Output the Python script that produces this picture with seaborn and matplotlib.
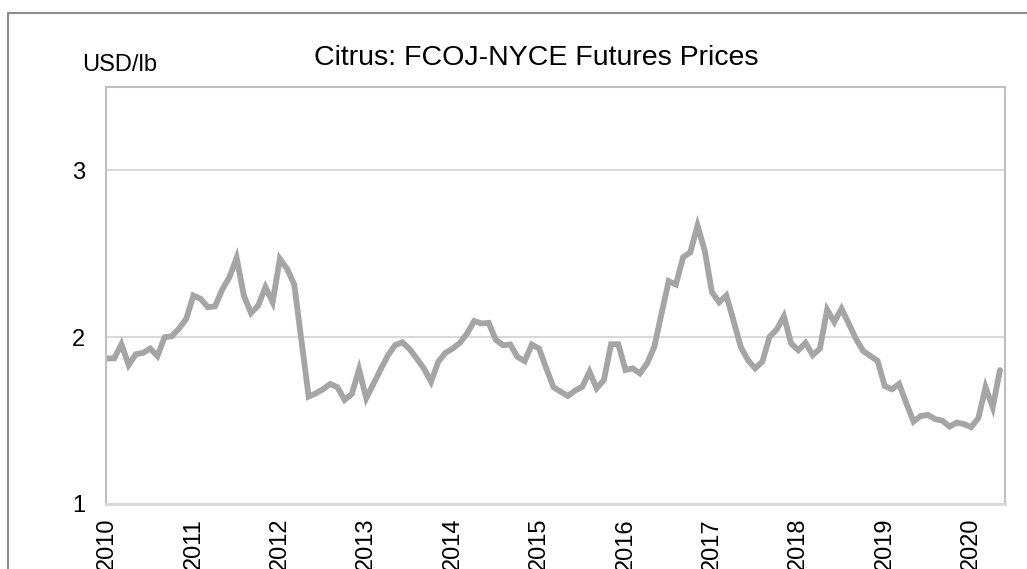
import numpy as np
import pandas as pd
import matplotlib
matplotlib.use("Agg")
import matplotlib.pyplot as plt
import seaborn as sns
from matplotlib.lines import Line2D

# ---- data (monthly, Jan 2010 .. May 2020), USD/lb ----
prices = [
    1.873, 1.873, 1.958, 1.833, 1.898, 1.906, 1.932, 1.887, 2.000, 2.006, 2.052, 2.110,
    2.250, 2.230, 2.180, 2.185, 2.285, 2.360, 2.476, 2.250, 2.145, 2.190, 2.300, 2.210,
    2.470, 2.410, 2.316, 1.980, 1.644, 1.664, 1.688, 1.720, 1.700, 1.624, 1.660, 1.807,
    1.634, 1.720, 1.807, 1.890, 1.952, 1.970, 1.930, 1.873, 1.813, 1.733, 1.853, 1.906,
    1.932, 1.966, 2.022, 2.097, 2.082, 2.086, 1.984, 1.952, 1.956, 1.882, 1.857, 1.956,
    1.932, 1.813, 1.700, 1.673, 1.648, 1.680, 1.703, 1.793, 1.694, 1.743, 1.958, 1.958,
    1.803, 1.813, 1.783, 1.843, 1.942, 2.141, 2.336, 2.316, 2.479, 2.509, 2.669, 2.520,
    2.270, 2.210, 2.250, 2.100, 1.942, 1.863, 1.813, 1.853, 2.002, 2.046, 2.125, 1.962,
    1.922, 1.966, 1.893, 1.932, 2.165, 2.091, 2.171, 2.082, 1.990, 1.918, 1.887, 1.859,
    1.707, 1.688, 1.720, 1.604, 1.494, 1.528, 1.534, 1.509, 1.500, 1.464, 1.488, 1.479,
    1.461, 1.515, 1.700, 1.580, 1.803,
]
year_labels = [str(y) for y in range(2010, 2021)]
y_ticks = [1, 2, 3]

title = "Citrus: FCOJ-NYCE Futures Prices"
unit = "USD/lb"

df = pd.DataFrame({"month": np.arange(len(prices)), "price": prices})

sns.set_theme(style="white")
plt.rcParams["font.family"] = ["Liberation Sans", "DejaVu Sans"]

W, H = 1027, 569
fig = plt.figure(figsize=(W / 100, H / 100), dpi=100)
ax = fig.add_axes([106 / W, 1 - 504 / H, 899 / W, (504 - 87) / H])

sns.lineplot(data=df, x="month", y="price", ax=ax, color="#A5A5A5",
             linewidth=4.2, solid_joinstyle="miter")

ax.set_xlim(-0.14, 124.7)
ax.set_ylim(1, 3.5)
ax.set_yticks(y_ticks)
ax.set_yticklabels([str(v) for v in y_ticks])
ax.yaxis.grid(True, color="#D9D9D9", linewidth=1.5)
ax.set_axisbelow(True)

ax.set_xticks(np.arange(0, len(year_labels) * 12, 12))
ax.set_xticklabels(year_labels, rotation=90)
ax.set_xticks(np.arange(0, 125), minor=True)
ax.tick_params(axis="x", which="both", direction="out", length=4, width=1,
               color="#D9D9D9", pad=6, labelsize=17, labelcolor="black")
ax.tick_params(axis="y", length=0, pad=15, labelsize=17, labelcolor="black")
ax.set_xlabel("")
ax.set_ylabel("")

for s in ["left", "top", "right"]:
    ax.spines[s].set_color("#BFBFBF")
    ax.spines[s].set_linewidth(1.5)
ax.spines["bottom"].set_color("#D9D9D9")
ax.spines["bottom"].set_linewidth(2)

fig.text(536 / W, 1 - 58 / H, title, ha="center", va="center", fontsize=20.5, color="black")
fig.text(82 / W, 1 - 65 / H, unit, ha="left", va="center", fontsize=17, color="black")

# outer chart frame
x0 = 8 / W
y0 = 1 - 13 / H
fig.add_artist(Line2D([x0, x0], [0, y0], transform=fig.transFigure, color="#8C8C8C", linewidth=1.5))
fig.add_artist(Line2D([x0, 1], [y0, y0], transform=fig.transFigure, color="#8C8C8C", linewidth=1.5))

fig.savefig("out.png", dpi=100, facecolor="white")
